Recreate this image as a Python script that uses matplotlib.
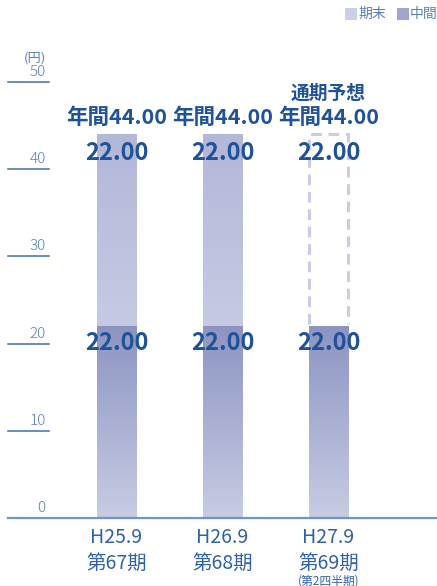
import numpy as np
import matplotlib.pyplot as plt
from matplotlib.colors import LinearSegmentedColormap
from matplotlib.patches import Rectangle

plt.rcParams['font.family'] = ['Noto Sans CJK JP', 'DejaVu Sans']

# データ
dates = ['H25.9', 'H26.9', 'H27.9']
terms = ['第67期', '第68期', '第69期']
interim = [22.00, 22.00, 22.00]       # 中間
year_end = [22.00, 22.00, 22.00]      # 期末
forecast = [False, False, True]       # 通期予想
annual_labels = ['年間44.00', '年間44.00', '年間44.00']
yticks = [0, 10, 20, 30, 40, 50]

navy = '#1f5298'
tick_blue = '#5b80b9'
line_blue = '#3f6db1'
label_blue = '#2f62a8'

fig = plt.figure(figsize=(4.37, 5.86), dpi=100)
ax = fig.add_axes([0.0183, 0.116, 0.9817, 0.744])
ax.set_xlim(-1.024, 3.024)
ax.set_ylim(0, 50)
ax.axis('off')

cm_interim = LinearSegmentedColormap.from_list('mid', ['#c8cce3', '#8c94c2'])
cm_end = LinearSegmentedColormap.from_list('end', ['#c7cae3', '#b3b7d8'])
grad = np.linspace(0, 1, 256).reshape(-1, 1)
w = 0.368

def gradient_bar(x, bottom, height, cmap):
    rect = Rectangle((x - w / 2, bottom), w, height, facecolor='none', edgecolor='none')
    ax.add_patch(rect)
    im = ax.imshow(grad, cmap=cmap, aspect='auto', origin='lower',
                   extent=(x - w / 2, x + w / 2, bottom, bottom + height), zorder=2)
    im.set_clip_path(rect)

for i in range(len(dates)):
    gradient_bar(i, 0, interim[i], cm_interim)
    top = interim[i] + year_end[i]
    if forecast[i]:
        # 予想分は破線の枠（底辺なし）
        ax.plot([i - w / 2, i - w / 2, i + w / 2, i + w / 2],
                [interim[i] + 0.2, top, top, interim[i] + 0.2],
                color='#c9cce4', lw=2.2, ls=(0, (3.5, 2.2)), zorder=2)
    else:
        gradient_bar(i, interim[i], year_end[i], cm_end)
    ax.annotate(f'{interim[i]:.2f}', (i, interim[i]), xytext=(0, -12), textcoords='offset points',
                ha='center', va='center', fontsize=17, fontweight='bold', color=navy, zorder=3)
    ax.annotate(f'{year_end[i]:.2f}', (i, top), xytext=(0, -13.5), textcoords='offset points',
                ha='center', va='center', fontsize=17, fontweight='bold', color=navy, zorder=3)
    ax.annotate(annual_labels[i], (i, top), xytext=(0, 12), textcoords='offset points',
                ha='center', va='center', fontsize=15.5, fontweight='bold', color=navy)
    if forecast[i]:
        ax.annotate('通期予想', (i, top), xytext=(0, 29.5), textcoords='offset points',
                    ha='center', va='center', fontsize=13.5, fontweight='bold', color=navy)
    ax.text(i, -2.25, dates[i], ha='center', va='center', fontsize=14, color=label_blue)
    ax.text(i, -5.15, terms[i], ha='center', va='center', fontsize=14, color=label_blue)
    if forecast[i]:
        ax.text(i, -7.2, '(第2四半期)', ha='center', va='center', fontsize=8.5, color=label_blue)

# 目盛り
trans = ax.get_yaxis_transform()
for v in yticks[1:]:
    ax.plot([0, 0.0956], [v, v], transform=trans, color=line_blue, lw=1.1, clip_on=False)
for v in yticks:
    ax.text(0.088, v + 0.35, str(v), transform=trans, ha='right', va='bottom',
            fontsize=11, color=tick_blue, fontweight='light')
ax.text(0.088, 52.8, '(円)', transform=trans, ha='right', va='center', fontsize=9.5, color=tick_blue)
ax.plot([0, 1], [0, 0], transform=trans, color='#6f94c8', lw=1.6, zorder=4, clip_on=False)

# 凡例
fig.patches.append(Rectangle((345, 586 - 20), 12, 12, transform=None, facecolor='#ccd0e6',
                             edgecolor='none'))
fig.text(358, 586 - 14, '期末', transform=None, ha='left', va='center', fontsize=10, color=tick_blue)
fig.patches.append(Rectangle((397, 586 - 20), 12, 12, transform=None, facecolor='#a0a6cd',
                             edgecolor='none'))
fig.text(410, 586 - 14, '中間', transform=None, ha='left', va='center', fontsize=10, color=tick_blue)

fig.savefig('out.png', dpi=100)
